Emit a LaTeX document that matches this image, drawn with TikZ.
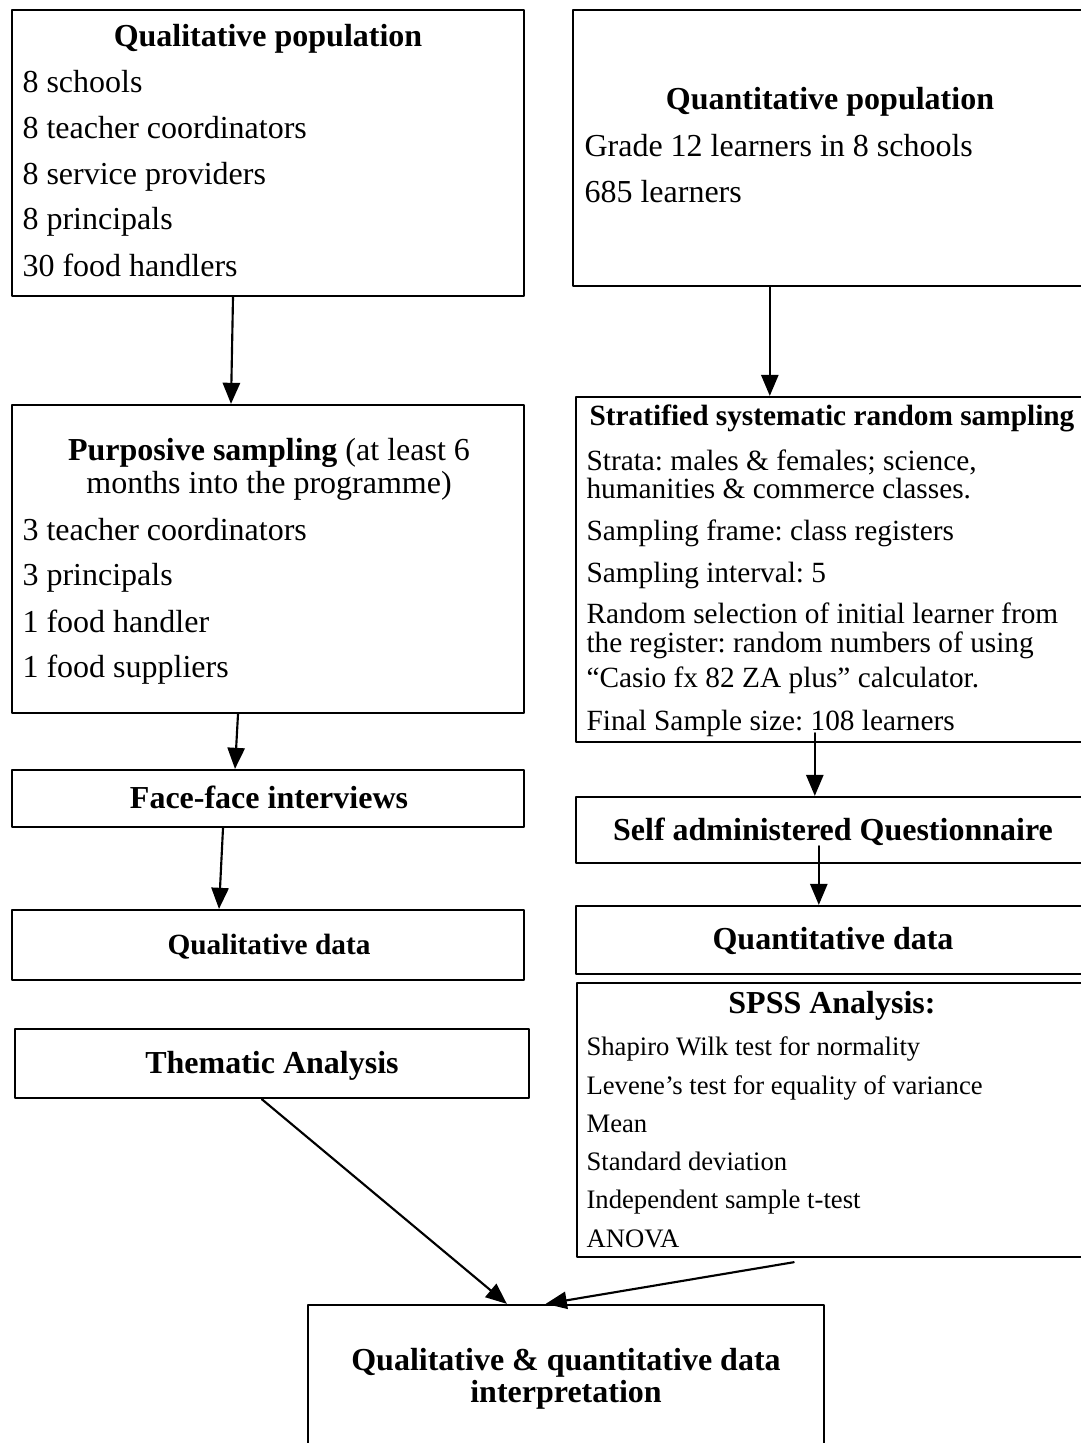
\documentclass[tikz,border=0pt]{standalone}
\usepackage{fontspec}
\setmainfont{Liberation Serif}
\usepackage{tikz}
\usetikzlibrary{arrows, fit, calc}
\tikzstyle{arrow} = [line width=0.8pt,->,>=triangle 45]
\tikzstyle{box} = [draw, line width=0.9pt, inner sep=0pt]
\tikzstyle{ttl} = [anchor=base, inner sep=0pt, font=\bfseries\fontsize{12}{14}\selectfont]
\tikzstyle{txt} = [anchor=base west, inner sep=0pt, font=\fontsize{12}{14}\selectfont]
\frenchspacing

\begin{document}
\begin{tikzpicture}[line cap=round,line join=round,x=0.375pt,y=-0.375pt]
                \useasboundingbox (0,0) rectangle (1080,1443);
                % boxes
                \node[box, fit={(12,10) (524,296)}] (qualpop) {};
                \node[box, fit={(573,10) (1088,286)}] (quantpop) {};
                \node[box, fit={(12,405) (524,713)}] (purpose) {};
                \node[box, fit={(576,397) (1088,742)}] (strat) {};
                \node[box, fit={(12,770) (524,827)}] (faceint) {};
                \node[box, fit={(576,797) (1088,863)}] (selfq) {};
                \node[box, fit={(12,910) (524,980)}] (qualdata) {};
                \node[box, fit={(576,906) (1088,974)}] (quantdata) {};
                \node[box, fit={(15,1029) (529,1098)}] (thematic) {};
                \node[box, fit={(577,983) (1088,1257)}] (spss) {};
                \node[box, fit={(308,1305) (824,1470)}] (interp) {};
                % qualitative population
                \node[ttl] (qualpoptitle) at (268,47) {Qualitative population};
                \node[txt] (qp1) at (22,93) {8 schools};
                \node[txt] (qp2) at (22,139) {8 teacher coordinators};
                \node[txt] (qp3) at (22,185) {8 service providers};
                \node[txt] (qp4) at (22,230) {8 principals};
                \node[txt] (qp5) at (22,277) {30 food handlers};
                % quantitative population
                \node[ttl] (quantpoptitle) at (830,110) {Quantitative population};
                \node[txt] (np1) at (584,157) {Grade 12 learners in 8 schools};
                \node[txt] (np2) at (584,203) {685 learners};
                % purposive sampling
                \node[txt, anchor=base] (purposetitle) at (269,461) {\textbf{Purposive sampling} (at least 6};
                \node[txt, anchor=base] (purposetitleb) at (269,493) {months into the programme)};
                \node[txt] (ps1) at (22,540) {3 teacher coordinators};
                \node[txt] (ps2) at (22,585) {3 principals};
                \node[txt] (ps3) at (22,632) {1 food handler};
                \node[txt] (ps4) at (22,677) {1 food suppliers};
                % stratified sampling
                \node[ttl, font=\bfseries\fontsize{11}{13}\selectfont] (strattitle) at (832,425) {Stratified systematic random sampling};
                \begin{scope}[every node/.style={txt, font=\fontsize{11}{13}\selectfont}]
                \node (ss1) at (586,470) {Strata: males \& females; science,};
                \node (ss1b) at (586,498) {humanities \& commerce classes.};
                \node (ss2) at (586,540) {Sampling frame: class registers};
                \node (ss3) at (586,582) {Sampling interval: 5};
                \node (ss4) at (586,623) {Random selection of initial learner from};
                \node (ss4b) at (586,652) {the register: random numbers of using};
                \node (ss4c) at (586,687) {“Casio fx 82 ZA plus” calculator.};
                \node (ss5) at (586,730) {Final Sample size: 108 learners};
                \end{scope}
                % single line boxes
                \node[ttl] (faceinttitle) at (269,808) {Face-face interviews};
                \node[ttl] (selfqtitle) at (833,840) {Self administered Questionnaire};
                \node[ttl, font=\bfseries\fontsize{11}{13}\selectfont] (qualdatatitle) at (269,954) {Qualitative data};
                \node[ttl] (quantdatatitle) at (833,949) {Quantitative data};
                \node[ttl] (thematictitle) at (272,1073) {Thematic Analysis};
                % spss
                \node[ttl] (spsstitle) at (832,1013) {SPSS Analysis:};
                \begin{scope}[every node/.style={txt, font=\fontsize{10}{12}\selectfont}]
                \node (sp1) at (586,1055) {Shapiro Wilk test for normality};
                \node (sp2) at (586,1094) {Levene’s test for equality of variance};
                \node (sp3) at (586,1132) {Mean};
                \node (sp4) at (586,1170) {Standard deviation};
                \node (sp5) at (586,1208) {Independent sample t-test};
                \node (sp6) at (586,1247) {ANOVA};
                \end{scope}
                % interpretation
                \node[ttl] (interptitle) at (566,1370) {Qualitative \& quantitative data};
                \node[ttl] (interptitleb) at (566,1402) {interpretation};
                % arrows
                \draw[arrow] ($(qualpop.south)+(-35,0)$) -- ($(purpose.north)+(-37,0)$);
                \draw[arrow] ($(quantpop.south west)+(198,0)$) -- ($(strat.north west)+(195,0)$);
                \draw[arrow] ($(purpose.south)+(-30,0)$) -- ($(faceint.north)+(-33,0)$);
                \draw[arrow] ($(faceint.south)+(-45,0)$) -- ($(qualdata.north)+(-49,0)$);
                \draw[arrow] ($(strat.south west)+(240,-10)$) -- ($(selfq.north west)+(240,0)$);
                \draw[arrow] ($(selfq.south west)+(244,-18)$) -- ($(quantdata.north west)+(244,0)$);
                \draw[arrow] ($(thematic.south west)+(248,0)$) -- ($(interp.north west)+(200,0)$);
                \draw[arrow] ($(spss.south west)+(218,4)$) -- ($(interp.north west)+(239,0)$);
            \end{tikzpicture}
\end{document}
